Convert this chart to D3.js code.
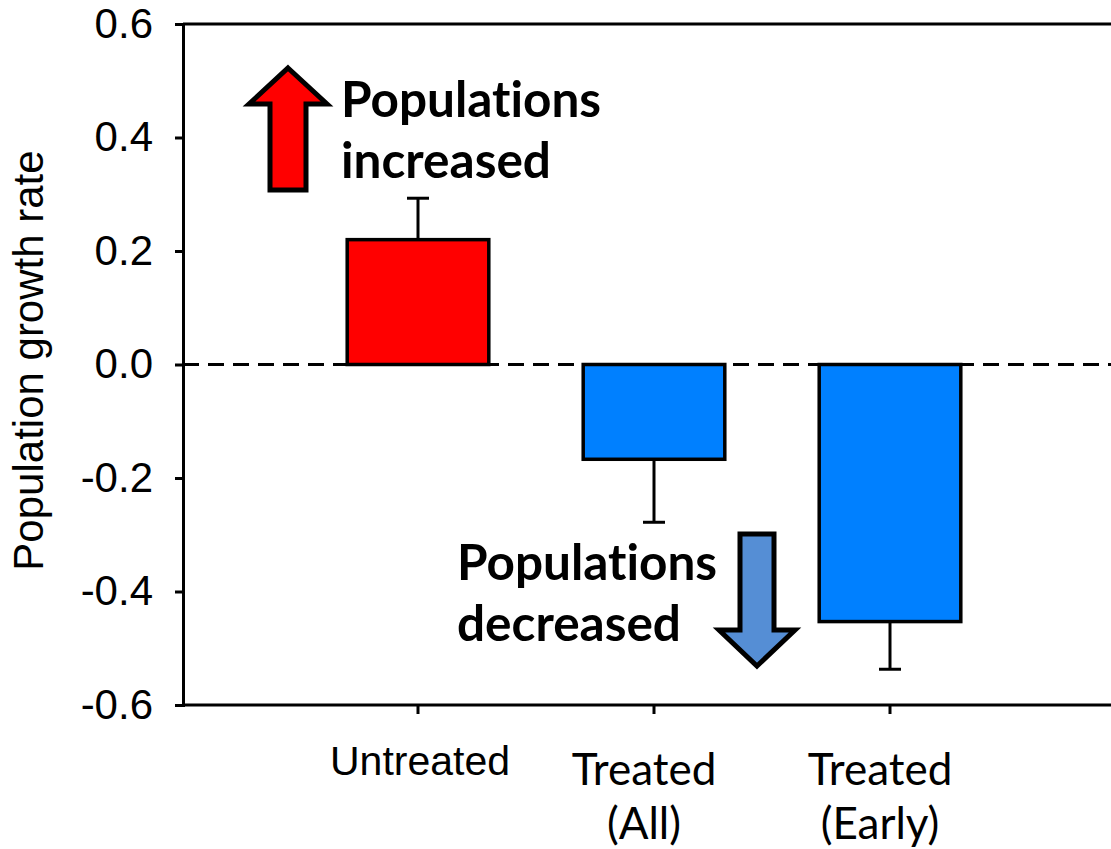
<!DOCTYPE html>
<html>
<head>
<meta charset="utf-8">
<script src="https://cdn.jsdelivr.net/npm/d3@7"></script>
<style>
  body { margin: 0; background: #fff; }
  svg { display: block; }
  text { font-variant-ligatures: none; font-feature-settings: "liga" 0; }
</style>
</head>
<body>
<div id="chart"></div>
<script>
var categories = ["Untreated", "Treated (All)", "Treated (Early)"];
var labelLines = [["Untreated"], ["Treated", "(All)"], ["Treated", "(Early)"]];
var growthRate = [0.22, -0.167, -0.453];
var errorBars = [0.073, 0.111, 0.084];
var barColors = ["#ff0000", "#0080ff", "#0080ff"];
var yTicks = [0.6, 0.4, 0.2, 0.0, -0.2, -0.4, -0.6];

var W = 1111, H = 849;
var axisX = 183;
var sansFont = "'Liberation Sans', Arial, sans-serif";
var calFont = "Lato, Carlito, Calibri, sans-serif";

var svg = d3.select("#chart").append("svg")
  .attr("width", W).attr("height", H);

var y = d3.scaleLinear().domain([-0.6, 0.6]).range([705, 24]);
var x = d3.scaleBand().domain(categories)
  .range([300, 1008]).paddingInner(0.4).paddingOuter(0.2);

// frame top + bottom (right side runs off the picture)
svg.append("line").attr("x1", axisX).attr("x2", W)
  .attr("y1", y(0.6)).attr("y2", y(0.6))
  .attr("stroke", "#000").attr("stroke-width", 3);
svg.append("line").attr("x1", axisX).attr("x2", W)
  .attr("y1", y(-0.6)).attr("y2", y(-0.6))
  .attr("stroke", "#000").attr("stroke-width", 3);

// zero line
svg.append("line").attr("x1", axisX).attr("x2", W)
  .attr("y1", y(0)).attr("y2", y(0))
  .attr("stroke", "#000").attr("stroke-width", 3)
  .attr("stroke-dasharray", "16,9");

// bars
var data = categories.map(function(c, i) {
  return {cat: c, val: growthRate[i], err: errorBars[i], color: barColors[i]};
});

var bars = svg.append("g");
bars.selectAll("rect").data(data).enter().append("rect")
  .attr("x", function(d) { return x(d.cat); })
  .attr("y", function(d) { return y(Math.max(0, d.val)); })
  .attr("width", x.bandwidth())
  .attr("height", function(d) { return Math.abs(y(d.val) - y(0)); })
  .attr("fill", function(d) { return d.color; })
  .attr("stroke", "#000").attr("stroke-width", 3.5);

// error bars (one-sided, away from zero)
var capW = 11;
var errG = svg.append("g").attr("stroke", "#000").attr("stroke-width", 3);
data.forEach(function(d) {
  var cx = x(d.cat) + x.bandwidth() / 2;
  var tip = d.val >= 0 ? d.val + d.err : d.val - d.err;
  errG.append("line").attr("x1", cx).attr("x2", cx)
    .attr("y1", y(d.val)).attr("y2", y(tip));
  errG.append("line").attr("x1", cx - capW).attr("x2", cx + capW)
    .attr("y1", y(tip)).attr("y2", y(tip));
});

// y axis
var yAxis = d3.axisLeft(y).tickValues(yTicks).tickSize(8).tickPadding(22)
  .tickFormat(function(d) { return d.toFixed(1); });
var gy = svg.append("g").attr("transform", "translate(" + axisX + ",0)").call(yAxis);
gy.select(".domain").attr("stroke-width", 3);
gy.selectAll(".tick line").attr("stroke-width", 3);
gy.selectAll(".tick text").attr("font-family", sansFont)
  .attr("font-size", 42).attr("fill", "#000");

// x axis ticks
var xAxis = d3.axisBottom(x).tickSize(9).tickFormat("");
var gx = svg.append("g").attr("transform", "translate(0," + y(-0.6) + ")").call(xAxis);
gx.select(".domain").remove();
gx.selectAll(".tick line").attr("stroke-width", 3);

// category labels
var labShift = [2, -10, -10];
var labFont = [sansFont, calFont, calFont];
var labSize = [41, 44, 44];
var labBase = [775, 785];
labelLines.forEach(function(lines, i) {
  var cx = x(categories[i]) + x.bandwidth() / 2 + labShift[i];
  lines.forEach(function(t, j) {
    svg.append("text").attr("x", cx).attr("y", labBase[0] + (i === 0 ? 0 : 10) + j * 54)
      .attr("text-anchor", "middle")
      .attr("font-family", labFont[i]).attr("font-size", labSize[i])
      .attr("fill", "#000").text(t);
  });
});

// y axis title
svg.append("text")
  .attr("transform", "translate(43," + (y(0) - 4) + ") rotate(-90)")
  .attr("text-anchor", "middle")
  .attr("font-family", sansFont).attr("font-size", 42)
  .attr("fill", "#000").text("Population growth rate");

// block arrows
function blockArrow(cx, tipY, baseY, shaftW, headW, headLen, fill) {
  var dir = baseY > tipY ? 1 : -1;
  var hy = tipY + dir * headLen;
  var pts = [[cx, tipY], [cx + headW / 2, hy], [cx + shaftW / 2, hy],
    [cx + shaftW / 2, baseY], [cx - shaftW / 2, baseY], [cx - shaftW / 2, hy],
    [cx - headW / 2, hy]];
  svg.append("path").attr("d", d3.line()(pts) + "Z")
    .attr("fill", fill).attr("stroke", "#000").attr("stroke-width", 5)
    .attr("stroke-linejoin", "miter");
}
blockArrow(288, 68, 190, 36, 78, 36, "#ff0000");
blockArrow(757, 666, 534, 34, 76, 36, "#558ed5");

// annotations
var noteFont = 49.5;
function note(xp, yp, lines) {
  lines.forEach(function(t, j) {
    svg.append("text").attr("x", xp).attr("y", yp + j * 61)
      .attr("font-family", calFont).attr("font-weight", "bold")
      .attr("font-size", noteFont).attr("fill", "#000").text(t);
  });
}
note(341, 117, ["Populations", "increased"]);
note(457, 580, ["Populations", "decreased"]);
</script>
</body>
</html>
